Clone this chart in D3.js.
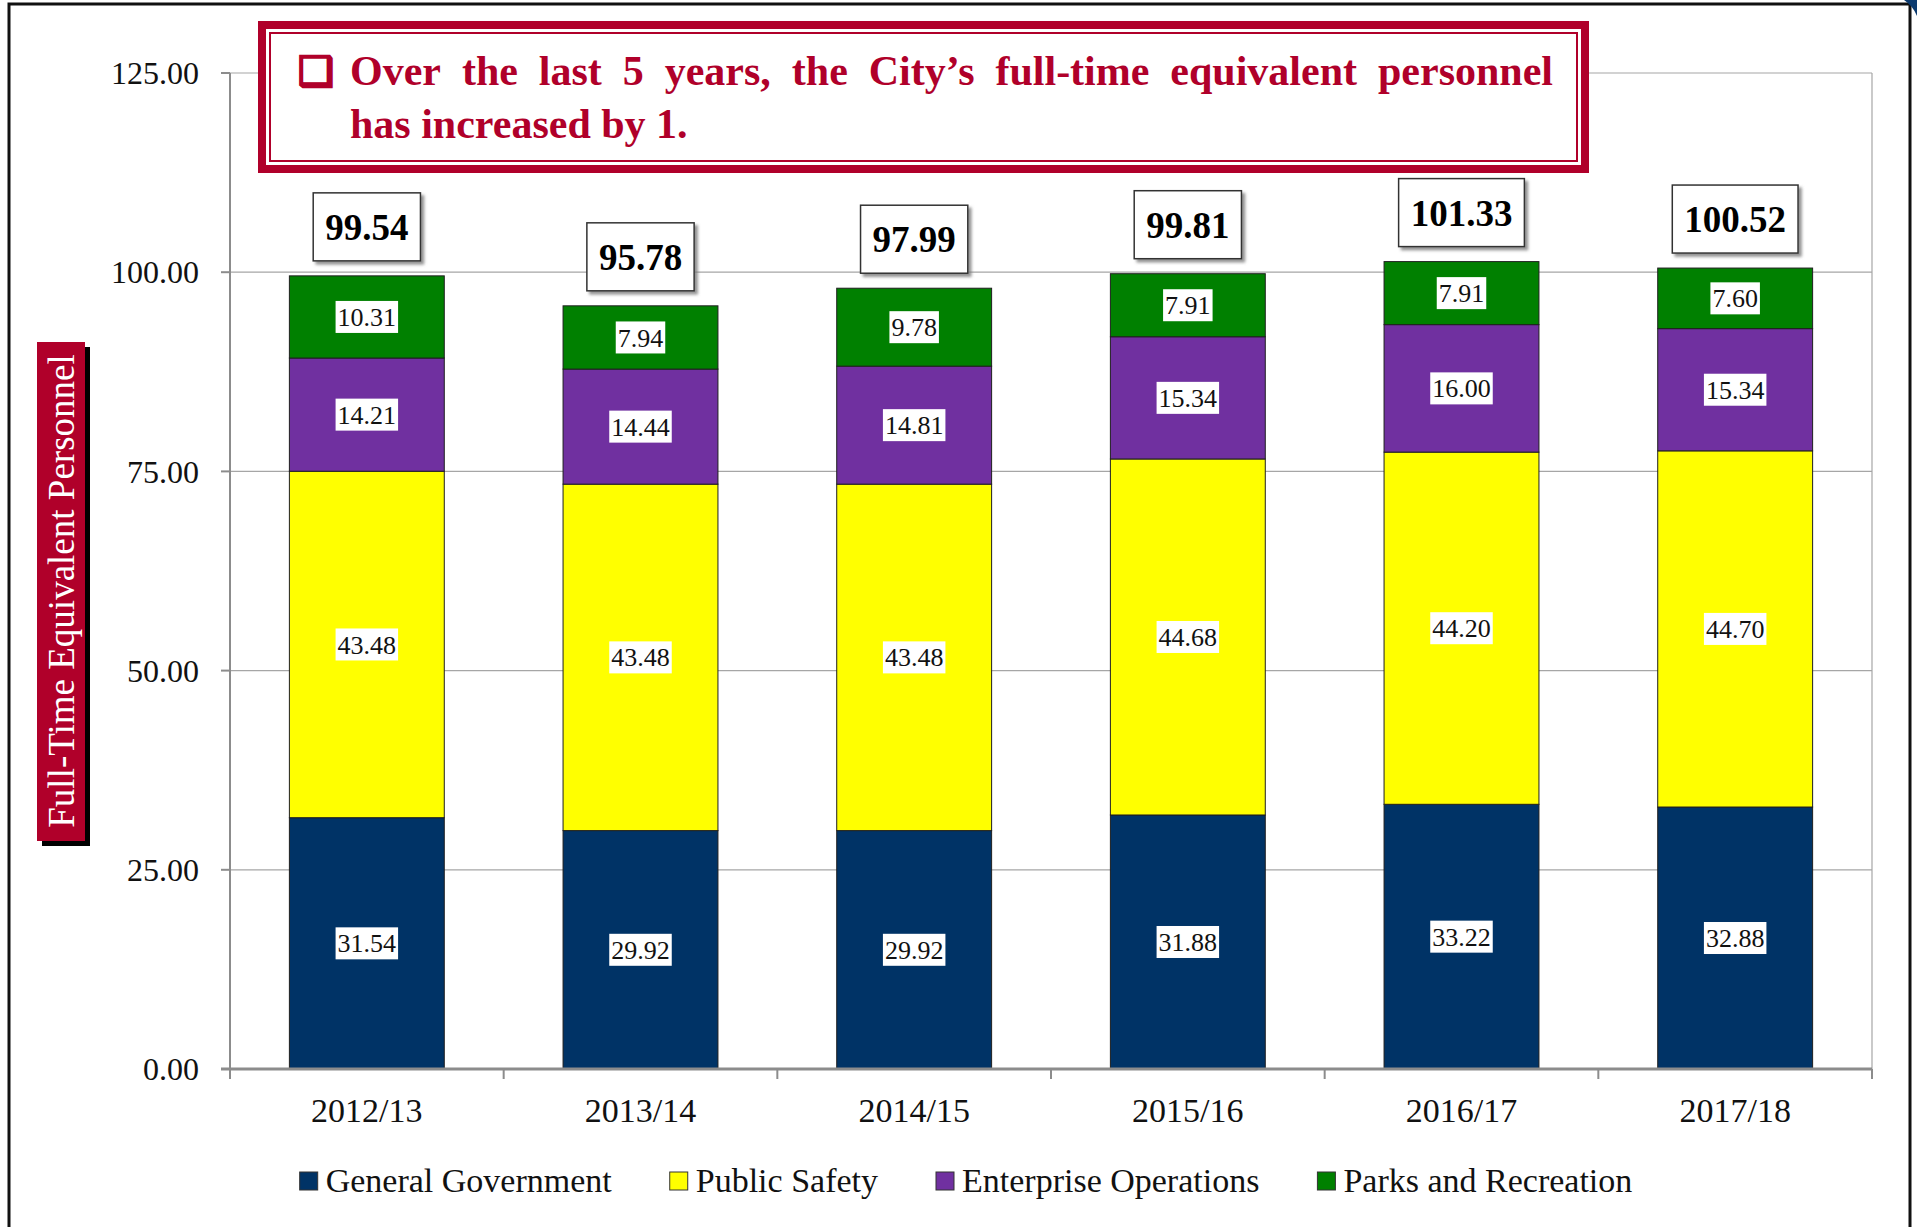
<!DOCTYPE html>
<html>
<head>
<meta charset="utf-8">
<script src="https://cdn.jsdelivr.net/npm/d3@7"></script>
<style>
body{margin:0;background:#fff;}
svg{display:block;}
text{font-family:"Liberation Serif","Times New Roman",serif;}
</style>
</head>
<body>
<svg id="chart"></svg>
<script>
var years = ["2012/13","2013/14","2014/15","2015/16","2016/17","2017/18"];
var generalGovernment = [31.54,29.92,29.92,31.88,33.22,32.88];
var publicSafety = [43.48,43.48,43.48,44.68,44.20,44.70];
var enterpriseOps = [14.21,14.44,14.81,15.34,16.00,15.34];
var parksRec = [10.31,7.94,9.78,7.91,7.91,7.60];
var totals = [99.54,95.78,97.99,99.81,101.33,100.52];
var seriesNames = ["General Government","Public Safety","Enterprise Operations","Parks and Recreation"];
var seriesColors = ["#003366","#FFFF00","#7030A0","#008000"];
var yTicks = [0,25,50,75,100,125];
var titleLine1 = "Over the last 5 years, the City\u2019s full-time equivalent personnel";
var titleLine2 = "has increased by 1.";
var axisTitle = "Full-Time Equivalent Personnel";

var red = "#B0002A";
var screen = {width:1917,height:1227};
var plot = {left:230,right:1872,top:73,bottom:1069};

var svg = d3.select("#chart")
    .attr("width",screen.width)
    .attr("height",screen.height);

var defs = svg.append("defs");
defs.append("filter")
    .attr("id","shadow")
    .attr("x","-20%").attr("y","-20%").attr("width","140%").attr("height","140%")
    .append("feDropShadow")
    .attr("dx",3).attr("dy",3).attr("stdDeviation",1.5)
    .attr("flood-color","#777").attr("flood-opacity",0.8);

// frame round the whole slide
svg.append("rect")
    .attr("x",9).attr("y",4)
    .attr("width",1901).attr("height",1260)
    .attr("fill","none")
    .attr("stroke","#111")
    .attr("stroke-width",3);
svg.append("path")
    .attr("d","M1904,0 Q1913,6 1917,16 L1917,0 Z")
    .attr("fill","#0b3a6e");

var rows = years.map(function(year,i)
{
    return {
        year:year,
        "General Government":generalGovernment[i],
        "Public Safety":publicSafety[i],
        "Enterprise Operations":enterpriseOps[i],
        "Parks and Recreation":parksRec[i],
        total:totals[i]
    };
});

var xScale = d3.scaleBand()
    .domain(years)
    .range([plot.left,plot.right])
    .paddingInner(0.434)
    .paddingOuter(0.217);

var yScale = d3.scaleLinear()
    .domain([0,125])
    .range([plot.bottom,plot.top]);

var color = d3.scaleOrdinal()
    .domain(seriesNames)
    .range(seriesColors);

// grid + plot border
svg.append("g")
    .selectAll("line")
    .data(yTicks.slice(1))
    .enter()
    .append("line")
    .attr("x1",plot.left).attr("x2",plot.right)
    .attr("y1",function(d){return yScale(d);})
    .attr("y2",function(d){return yScale(d);})
    .attr("stroke","#a6a6a6")
    .attr("stroke-width",1.2);
svg.append("line")
    .attr("x1",plot.right).attr("x2",plot.right)
    .attr("y1",plot.top).attr("y2",plot.bottom)
    .attr("stroke","#a6a6a6")
    .attr("stroke-width",1.2);

var stack = d3.stack().keys(seriesNames);
var layers = stack(rows);

var bars = svg.append("g")
    .selectAll("g")
    .data(layers)
    .enter()
    .append("g")
    .attr("fill",function(layer){return color(layer.key);});

bars.selectAll("rect")
    .data(function(layer){return layer;})
    .enter()
    .append("rect")
    .attr("x",function(d){return xScale(d.data.year);})
    .attr("width",xScale.bandwidth())
    .attr("y",function(d){return yScale(d[1]);})
    .attr("height",function(d){return yScale(d[0])-yScale(d[1]);})
    .attr("stroke","#1f1f1f")
    .attr("stroke-width",1);

// segment value labels
var fmt = d3.format(".2f");
layers.forEach(function(layer)
{
    layer.forEach(function(d)
    {
        var cx = xScale(d.data.year)+xScale.bandwidth()/2;
        var cy = (yScale(d[0])+yScale(d[1]))/2;
        var g = svg.append("g");
        var bg = g.append("rect").attr("fill","#fff");
        var t = g.append("text")
            .text(fmt(d[1]-d[0]))
            .attr("x",cx)
            .attr("y",cy)
            .attr("dy","0.35em")
            .attr("text-anchor","middle")
            .attr("font-size",26)
            .attr("fill","#111");
        var w = t.node().getComputedTextLength();
        bg.attr("x",cx-w/2-2).attr("y",cy-16)
          .attr("width",w+4).attr("height",32);
    });
});

// total boxes
rows.forEach(function(row)
{
    var cx = xScale(row.year)+xScale.bandwidth()/2;
    var bottom = yScale(row.total)-15;
    var g = svg.append("g");
    var box = g.append("rect")
        .attr("fill","#fff")
        .attr("stroke","#333")
        .attr("stroke-width",1.5)
        .attr("filter","url(#shadow)");
    var t = g.append("text")
        .text(fmt(row.total))
        .attr("x",cx)
        .attr("y",bottom-34)
        .attr("dy","0.35em")
        .attr("text-anchor","middle")
        .attr("font-size",37)
        .attr("font-weight","bold")
        .attr("fill","#000");
    var w = t.node().getComputedTextLength();
    box.attr("x",cx-w/2-12).attr("y",bottom-68)
       .attr("width",w+24).attr("height",68);
});

// axes
var yAxis = svg.append("g");
yAxis.append("line")
    .attr("x1",plot.left).attr("x2",plot.left)
    .attr("y1",plot.top).attr("y2",plot.bottom)
    .attr("stroke","#8c8c8c").attr("stroke-width",2);
var yTickG = yAxis.selectAll("g")
    .data(yTicks)
    .enter()
    .append("g")
    .attr("transform",function(d){return "translate(0,"+yScale(d)+")";});
yTickG.append("line")
    .attr("x1",plot.left-9).attr("x2",plot.left)
    .attr("stroke","#8c8c8c").attr("stroke-width",2);
yTickG.append("text")
    .text(function(d){return fmt(d);})
    .attr("x",199)
    .attr("dy","0.35em")
    .attr("text-anchor","end")
    .attr("font-size",32)
    .attr("fill","#111");

var xAxis = svg.append("g");
xAxis.append("line")
    .attr("x1",plot.left-9).attr("x2",plot.right)
    .attr("y1",plot.bottom).attr("y2",plot.bottom)
    .attr("stroke","#8c8c8c").attr("stroke-width",3);
var bounds = years.map(function(y){return xScale(y)-xScale.step()*0.217;});
bounds.push(plot.right);
xAxis.selectAll(".tick")
    .data(bounds)
    .enter()
    .append("line")
    .attr("x1",function(d){return d;}).attr("x2",function(d){return d;})
    .attr("y1",plot.bottom).attr("y2",plot.bottom+10)
    .attr("stroke","#8c8c8c").attr("stroke-width",2);
xAxis.selectAll("text")
    .data(years)
    .enter()
    .append("text")
    .text(function(d){return d;})
    .attr("x",function(d){return xScale(d)+xScale.bandwidth()/2;})
    .attr("y",1122)
    .attr("text-anchor","middle")
    .attr("font-size",34)
    .attr("fill","#111");

// y axis title
var yTitle = svg.append("g");
yTitle.append("rect")
    .attr("x",42).attr("y",347)
    .attr("width",48).attr("height",499)
    .attr("fill","#000");
yTitle.append("rect")
    .attr("x",37).attr("y",342)
    .attr("width",48).attr("height",499)
    .attr("fill",red);
yTitle.append("text")
    .text(axisTitle)
    .attr("transform","translate(61,591) rotate(-90)")
    .attr("dy","0.35em")
    .attr("text-anchor","middle")
    .attr("font-size",37)
    .attr("fill","#fff");

// title box
var title = svg.append("g");
title.append("rect")
    .attr("x",262).attr("y",25)
    .attr("width",1323).attr("height",144)
    .attr("fill","#fff")
    .attr("stroke",red).attr("stroke-width",8);
title.append("rect")
    .attr("x",270).attr("y",33)
    .attr("width",1307).attr("height",128)
    .attr("fill","none")
    .attr("stroke",red).attr("stroke-width",2);
title.append("text")
    .text("\u2751")
    .attr("x",298).attr("y",85)
    .attr("font-family","DejaVu Sans")
    .attr("font-weight","bold")
    .attr("font-size",40)
    .attr("fill",red)
    .attr("stroke",red)
    .attr("stroke-width",1.2);

var words = titleLine1.split(" ");
var widths = words.map(function(w)
{
    var t = title.append("text").text(w).attr("font-size",42).attr("font-weight","bold");
    var len = t.node().getComputedTextLength();
    t.remove();
    return len;
});
var lineStart = 350, lineEnd = 1553;
var gap = (lineEnd-lineStart-d3.sum(widths))/(words.length-1);
var pos = lineStart;
words.forEach(function(w,i)
{
    title.append("text")
        .text(w)
        .attr("x",pos).attr("y",85)
        .attr("font-size",42)
        .attr("font-weight","bold")
        .attr("fill",red);
    pos += widths[i]+gap;
});
title.append("text")
    .text(titleLine2)
    .attr("x",lineStart).attr("y",138)
    .attr("font-size",42)
    .attr("font-weight","bold")
    .attr("fill",red);

// legend
var legend = svg.append("g");
var items = seriesNames.map(function(name)
{
    var t = legend.append("text").text(name).attr("font-size",34);
    var len = t.node().getComputedTextLength();
    t.remove();
    return {name:name,width:len};
});
var itemGap = 58, swatch = 18;
var legendWidth = d3.sum(items,function(d){return swatch+8+d.width;})+itemGap*(items.length-1);
var lx = 966-legendWidth/2;
items.forEach(function(item)
{
    legend.append("rect")
        .attr("x",lx).attr("y",1172)
        .attr("width",swatch).attr("height",swatch)
        .attr("fill",color(item.name))
        .attr("stroke","#333").attr("stroke-width",1);
    legend.append("text")
        .text(item.name)
        .attr("x",lx+swatch+8).attr("y",1192)
        .attr("font-size",34)
        .attr("fill","#111");
    lx += swatch+8+item.width+itemGap;
});
</script>
</body>
</html>
